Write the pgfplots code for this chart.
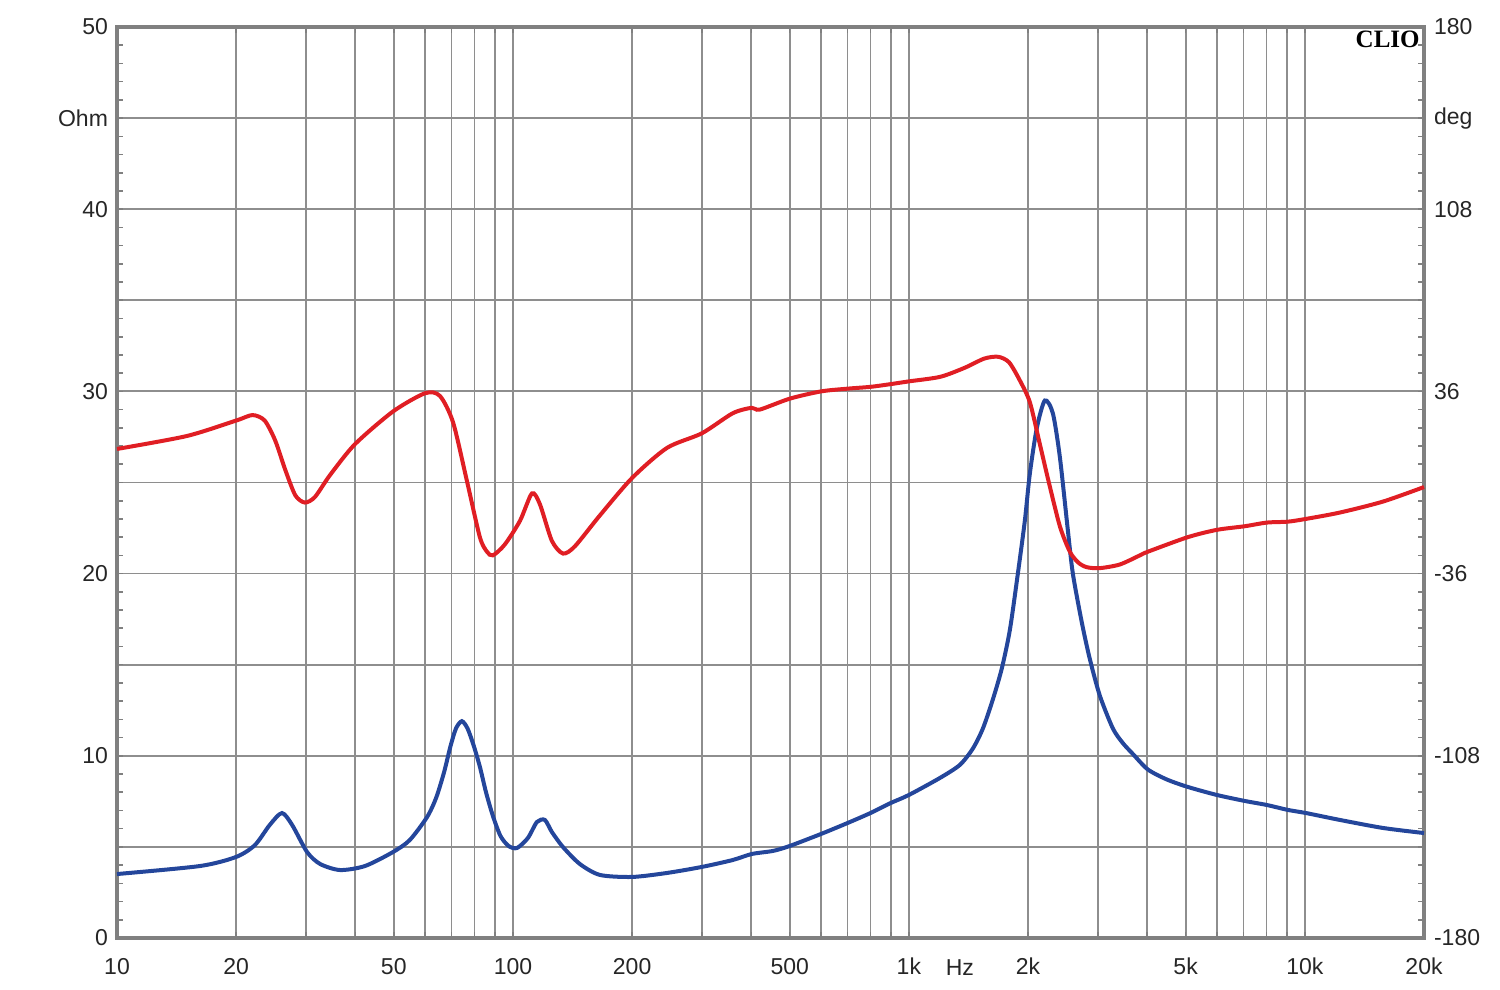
\documentclass[border=0pt]{standalone}
\usepackage{pgfplots}
\pgfplotsset{compat=1.18}
\usepackage{fontspec}
\setmainfont{Liberation Sans}
\newfontfamily\cliofont{Liberation Serif}
\definecolor{axisgray}{HTML}{808080}
\definecolor{gridgray}{HTML}{8E8E8E}
\definecolor{zred}{HTML}{E01E24}
\definecolor{zblue}{HTML}{24469B}
\begin{document}
\begin{tikzpicture}
\useasboundingbox (0,0) rectangle (750pt,495pt);
\begin{axis}[
  at={(58.5pt,26pt)}, anchor=south west,
  width=653.5pt, height=455.5pt, scale only axis,
  xmode=log, xmin=10, xmax=20000, ymin=0, ymax=50,
  clip=false,
  xtick={10,20,50,100,200,500,1000,2000,5000,10000,20000},
  xticklabels={10,20,50,100,200,500,1k,2k,5k,10k,20k},
  minor xtick={30,40,60,70,80,90,300,400,600,700,800,900,3000,4000,6000,7000,8000,9000},
  xmajorgrids, xminorgrids,
  ytick={0,5,...,50},
  yticklabels={0,,10,,20,,30,,40,Ohm,50},
  minor y tick num=4,
  ymajorgrids,
  major grid style={draw=gridgray, line width=0.9pt},
  minor grid style={draw=gridgray, line width=0.9pt},
  axis line style={draw=axisgray, line width=2pt},
  tick style={draw=axisgray, line width=0.8pt},
  tick align=inside,
  ytick pos=both, yticklabel pos=left,
  major tick length=3pt, minor tick length=3pt,
  tick label style={font=\fontsize{11.5}{13}\selectfont, text=black!85},
  xticklabel style={yshift=-6.5pt},
  yticklabel style={xshift=-1pt},
]
\addplot[zblue, line width=2pt, smooth, tension=0.45] coordinates {
(10,3.51) (16.2,3.95) (20,4.45) (22.3,5.1) (24.3,6.2) (26.1,6.86) (27.7,6.2)
(30.2,4.72) (32.6,4.06) (36.6,3.73) (42.3,3.95) (49.8,4.72) (54.9,5.38)
(60.7,6.64) (64,7.7) (67,9.1) (69.5,10.5) (71.8,11.5) (74.3,11.9) (76.8,11.5)
(79.5,10.6) (82.5,9.4) (85.5,8.0) (89,6.7) (93,5.6) (97.5,5.05) (102.4,4.94) (109.1,5.49)
(115,6.37) (120.4,6.48) (125.4,5.82) (133.8,4.99) (147.6,4.06) (165.9,3.46)
(200,3.35) (245,3.57) (300,3.9) (359,4.28) (401,4.61) (454,4.78) (500,5.05)
(600,5.71) (700,6.31) (800,6.86) (900,7.41) (1000,7.85) (1197,8.78)
(1345,9.5) (1451,10.4) (1538,11.5) (1630,13.1) (1717,14.8)
(1799,16.9) (1885,20.0) (1963,22.9) (2021,25.5) (2105,28.0) (2205,29.5)
(2310,28.8) (2406,26.4) (2520,22.4) (2595,20.0) (2735,17.3) (2865,15.3)
(3036,13.3) (3275,11.5) (3470,10.7) (3679,10.1) (4013,9.25) (4482,8.7)
(5064,8.29) (5995,7.85) (7057,7.52) (8017,7.30) (9057,7.03) (10058,6.86)
(12258,6.48) (15740,6.04) (20000,5.76)
};
\addplot[zred, line width=2pt, smooth, tension=0.45] coordinates {
(10,26.84) (15,27.55) (20,28.4) (22,28.7) (23.6,28.4) (25.1,27.3) (26.6,25.7)
(28.2,24.3) (29.8,23.9) (31.6,24.2) (34.5,25.4) (39.9,27.1) (49.8,28.9)
(60,29.9) (65.4,29.75) (70.6,28.3) (76.5,25.1) (82.5,22.0) (86,21.2) (89,21.0)
(95.4,21.6) (104.2,22.9) (111.7,24.4) (117,23.8) (125.4,21.8) (133.8,21.1)
(143.4,21.5) (165.9,23.2) (200,25.25) (245,26.9) (300,27.7) (359,28.8)
(401,29.1) (420,29.0) (500,29.6) (600,30.0) (700,30.15) (800,30.25) (900,30.4)
(1000,30.55) (1200,30.8) (1385,31.3) (1550,31.8) (1680,31.9) (1790,31.6)
(1907,30.6) (2021,29.4) (2142,27.1) (2257,25.0) (2406,22.6) (2550,21.2) (2680,20.6)
(2815,20.35) (3036,20.3) (3411,20.5) (3831,21.0) (4013,21.2) (5064,22.0)
(5995,22.4) (7057,22.6) (8017,22.8) (9057,22.85) (10058,23.0) (12258,23.35)
(15740,23.95) (20000,24.75)
};
\node[font=\fontsize{11.5}{13}\selectfont, text=black!85, anchor=north, inner sep=0pt]
  at (axis cs:1345,0) [yshift=-10.5pt] {Hz};
\node[font=\cliofont\bfseries\fontsize{12.5}{14}\selectfont, anchor=north east, inner sep=0pt]
  at (rel axis cs:1,1) [xshift=-2pt, yshift=-2pt] {CLIO};
\end{axis}
\begin{axis}[
  at={(58.5pt,26pt)}, anchor=south west,
  width=653.5pt, height=455.5pt, scale only axis,
  xmode=log, xmin=10, xmax=20000, ymin=-180, ymax=180,
  hide x axis, axis y line*=right,
  y axis line style={draw=none},
  ytick={-180,-108,-36,36,108,144,180},
  yticklabels={-180,-108,-36,36,108,deg,180},
  major tick length=0pt,
  tick label style={font=\fontsize{11.5}{13}\selectfont, text=black!85},
  yticklabel style={xshift=1.5pt},
]
\end{axis}
\end{tikzpicture}
\end{document}
